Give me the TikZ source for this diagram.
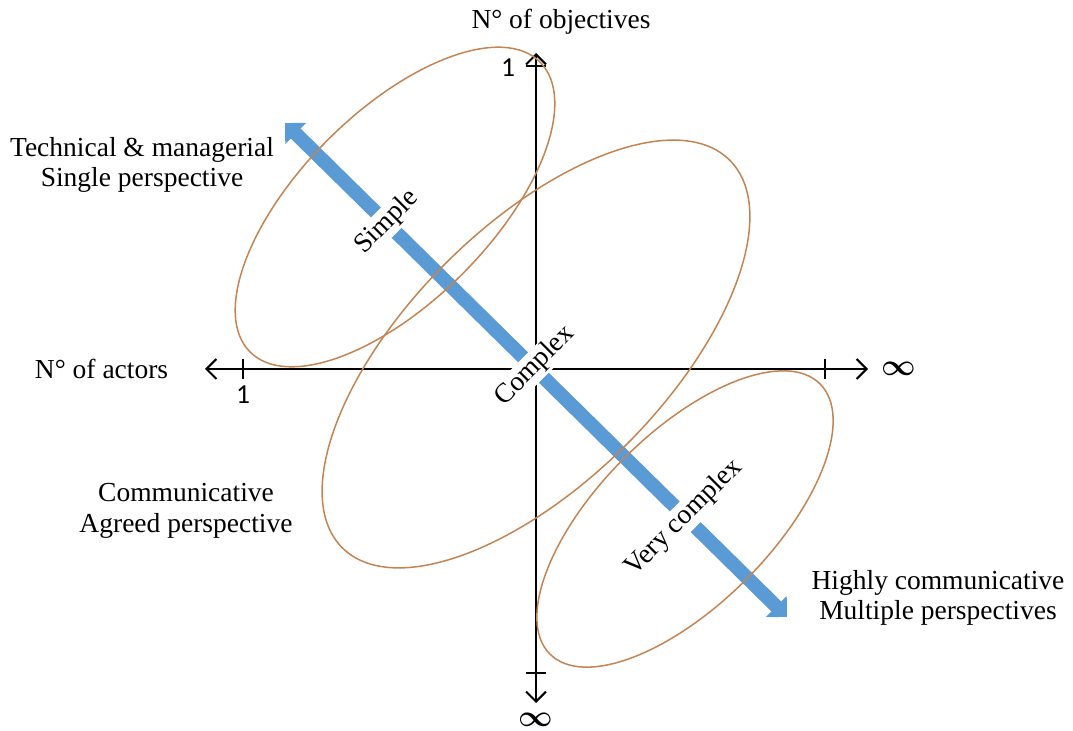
\documentclass[tikz,border=0pt]{standalone}
\usepackage{fontspec}
\setmainfont{Liberation Serif}
\newfontfamily\numfont{Carlito}
\usetikzlibrary{arrows.meta}
\definecolor{zoneorange}{RGB}{196,132,82}
\definecolor{flowblue}{RGB}{91,155,213}

\begin{document}
\begin{tikzpicture}[x=0.4pt, y=-0.4pt,
    axis/.style={line width=0.8pt, {Straight Barb[length=4pt,width=8pt]}-{Straight Barb[length=4pt,width=8pt]}},
    tick/.style={line width=0.8pt},
    zone/.style={draw=zoneorange, line width=0.6pt},
    flow/.style={draw=flowblue, line width=5.6pt, {Triangle[width=11.5pt,length=6pt]}-{Triangle[width=11.5pt,length=6pt]}},
    lbl/.style={font=\fontsize{11}{12.2}\selectfont, align=center},
    num/.style={font=\numfont\fontsize{11}{13}\selectfont},
    inf/.style={font=\boldmath\fontsize{12}{14}\selectfont},
    onflow/.style={font=\fontsize{11}{13}\selectfont, rotate=45, fill=white, inner sep=0.8pt}]
    \useasboundingbox (0,0) rectangle (1073,731);

    % Blue complexity arrow
    \coordinate (fs) at (285,123);
    \coordinate (fe) at (787,617);
    \draw[flow] (fs) -- (fe);

    % Axes
    \coordinate (xl) at (205,369);
    \coordinate (xr) at (868,369);
    \coordinate (yt) at (536,53);
    \coordinate (yb) at (536,703);
    \draw[axis] (xl) -- (xr);
    \draw[axis] (yb) -- (yt);
    \draw[tick] (243,359) -- (243,379);
    \draw[tick] (825,359) -- (825,379);
    \draw[tick] (526,66) -- (546,66);
    \draw[tick] (526,673) -- (546,673);

    % Perspective zones
    \draw[zone, rotate around={45:(395,207)}] (395,207) ellipse (205 and 95);
    \draw[zone, rotate around={45:(536,354)}] (536,354) ellipse (274 and 128);
    \draw[zone, rotate around={45:(685,519)}] (685,519) ellipse (191 and 86);

    % Axis labels
    \node[lbl] (yname) at (561,22) {N° of objectives};
    \node[lbl, anchor=east] (xname) at (177,369) {N° of actors};
    \node[inf] (xinf) at (899,369) {$\infty$};
    \node[inf] (yinf) at (536,720) {$\infty$};
    \node[num] (xone) at (243,395) {1};
    \node[num] (yone) at (508,68) {1};

    % Perspectives
    \node[lbl] (tech) at (142,165) {Technical \& managerial\\Single perspective};
    \node[lbl] (comm) at (186,511) {Communicative\\Agreed perspective};
    \node[lbl] (high) at (938,598) {Highly communicative\\Multiple perspectives};

    % Along the arrow
    \node[onflow] (simple) at (387,222) {Simple};
    \node[onflow] (complex) at (535,366) {Complex};
    \node[onflow] (vcomplex) at (684,518) {Very complex};
\end{tikzpicture}
\end{document}
